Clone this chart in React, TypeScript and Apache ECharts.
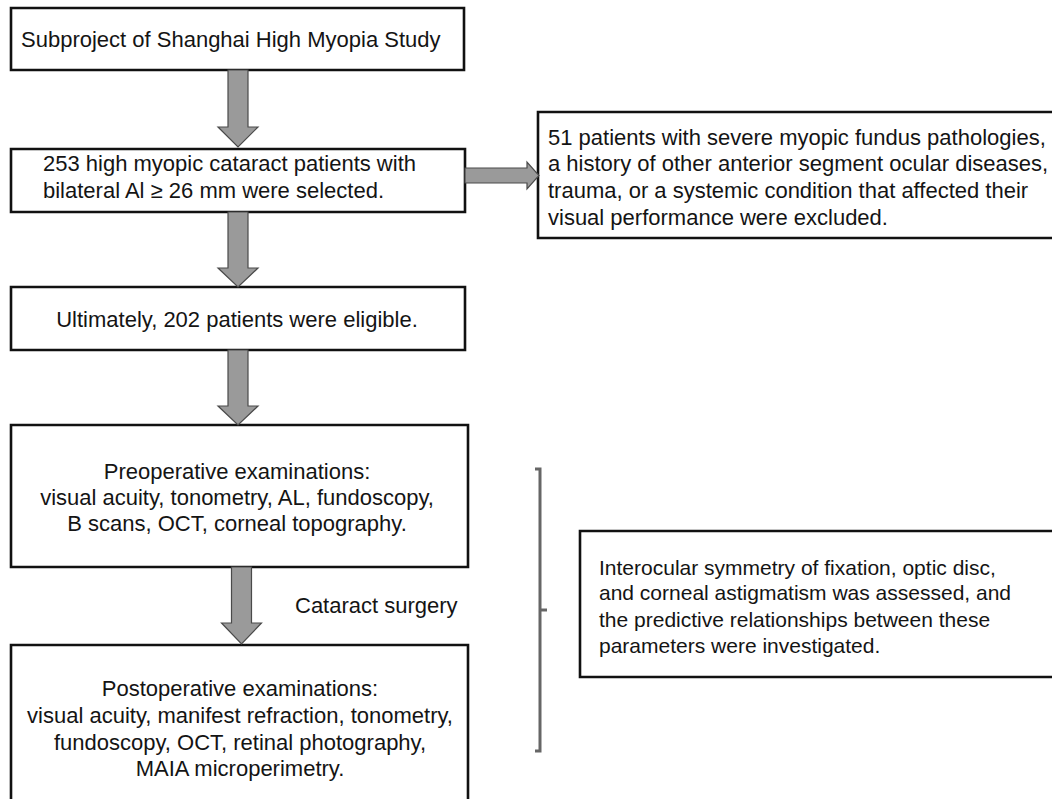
import React, { useEffect, useRef } from "react";
import * as echarts from "echarts";

const box1Lines = ["Subproject of Shanghai High Myopia Study"];
const box2Lines = ["253 high myopic cataract patients with", "bilateral Al \u2265 26 mm were selected."];
const box3Lines = ["Ultimately, 202 patients were eligible."];
const box4Lines = [
  "Preoperative examinations:",
  "visual acuity, tonometry, AL, fundoscopy,",
  "B scans, OCT, corneal topography.",
];
const box5Lines = [
  "Postoperative examinations:",
  "visual acuity, manifest refraction, tonometry,",
  "fundoscopy, OCT, retinal photography,",
  "MAIA microperimetry.",
];
const excludedLines = [
  "51 patients with severe myopic fundus pathologies,",
  "a history of other anterior segment ocular diseases,",
  "trauma, or a systemic condition that affected their",
  "visual performance were excluded.",
];
const outcomeLines = [
  "Interocular symmetry of fixation, optic disc,",
  "and corneal astigmatism was assessed, and",
  "the predictive relationships between these",
  "parameters were investigated.",
];
const surgeryLabel = ["Cataract surgery"];

const TEXT_COLOR = "#141414";
const ARROW_FILL = "#9a9a9a";
const ARROW_STROKE = "#4a4a4a";

function box(x: number, y: number, w: number, h: number) {
  return {
    type: "rect",
    shape: { x, y, width: w, height: h },
    style: { fill: "#fff", stroke: "#111", lineWidth: 2.6 },
    z: 1,
  };
}

function lines(arr: string[], x: number, ys: number[], align: string, size = 22) {
  return arr.map((t, i) => ({
    type: "text",
    x,
    y: ys[i],
    style: {
      text: t,
      fill: TEXT_COLOR,
      font: `${size}px 'Liberation Sans', Arial, sans-serif`,
      textAlign: align,
      textVerticalAlign: "middle",
    },
    z: 5,
  }));
}

function downArrow(cx: number, top: number, headStart: number, tip: number, sw = 10, hw = 20) {
  return {
    type: "polygon",
    shape: {
      points: [
        [cx - sw, top],
        [cx + sw, top],
        [cx + sw, headStart],
        [cx + hw, headStart],
        [cx, tip],
        [cx - hw, headStart],
        [cx - sw, headStart],
      ],
    },
    style: { fill: ARROW_FILL, stroke: ARROW_STROKE, lineWidth: 1.2 },
    z: 3,
  };
}

function rightArrow(left: number, cy: number, headStart: number, tip: number, sw = 7.5, hw = 13.5) {
  return {
    type: "polygon",
    shape: {
      points: [
        [left, cy - sw],
        [headStart, cy - sw],
        [headStart, cy - hw],
        [tip, cy],
        [headStart, cy + hw],
        [headStart, cy + sw],
        [left, cy + sw],
      ],
    },
    style: { fill: ARROW_FILL, stroke: ARROW_STROKE, lineWidth: 1.2 },
    z: 3,
  };
}

export default function App() {
  const ref = useRef<HTMLDivElement>(null);
  useEffect(() => {
    if (!ref.current) return;
    const chart = echarts.init(ref.current, null, { renderer: "svg" });
    const elements: any[] = [
      box(11, 8, 453, 62),
      box(11, 149, 454, 63),
      box(11, 287, 454, 63),
      box(11, 425, 457, 142),
      box(11, 645, 457, 170),
      box(538, 112, 530, 126),
      box(580, 531, 490, 146),
      downArrow(238, 70, 127, 147),
      downArrow(238, 212, 268, 287),
      downArrow(238, 350, 406, 425),
      downArrow(241.5, 567, 623, 644),
      rightArrow(465, 175.5, 527, 539),
      {
        type: "polyline",
        shape: { points: [[535, 469], [540, 469], [540, 751], [535, 751]] },
        style: { stroke: "#666", lineWidth: 3, fill: null },
        z: 2,
      },
      {
        type: "line",
        shape: { x1: 540, y1: 610, x2: 547, y2: 610 },
        style: { stroke: "#666", lineWidth: 3 },
        z: 2,
      },
      ...lines(box1Lines, 21, [39], "left"),
      ...lines(box2Lines, 43, [163, 190], "left"),
      ...lines(box3Lines, 237, [319], "center"),
      ...lines(box4Lines, 237, [471, 497, 523], "center"),
      ...lines(box5Lines, 240, [688, 715, 742, 768], "center"),
      ...lines(excludedLines, 548, [137, 163, 190, 217], "left"),
      ...lines(outcomeLines, 599, [567, 592, 619, 645], "left", 21),
      ...lines(surgeryLabel, 295, [605], "left"),
    ];
    chart.setOption({
      animation: false,
      backgroundColor: "#fff",
      graphic: { elements },
    });
    return () => chart.dispose();
  }, []);
  return (
    <div
      ref={ref}
      style={{ position: "fixed", left: 0, top: 0, width: 1052, height: 799, background: "#fff" }}
    />
  );
}
